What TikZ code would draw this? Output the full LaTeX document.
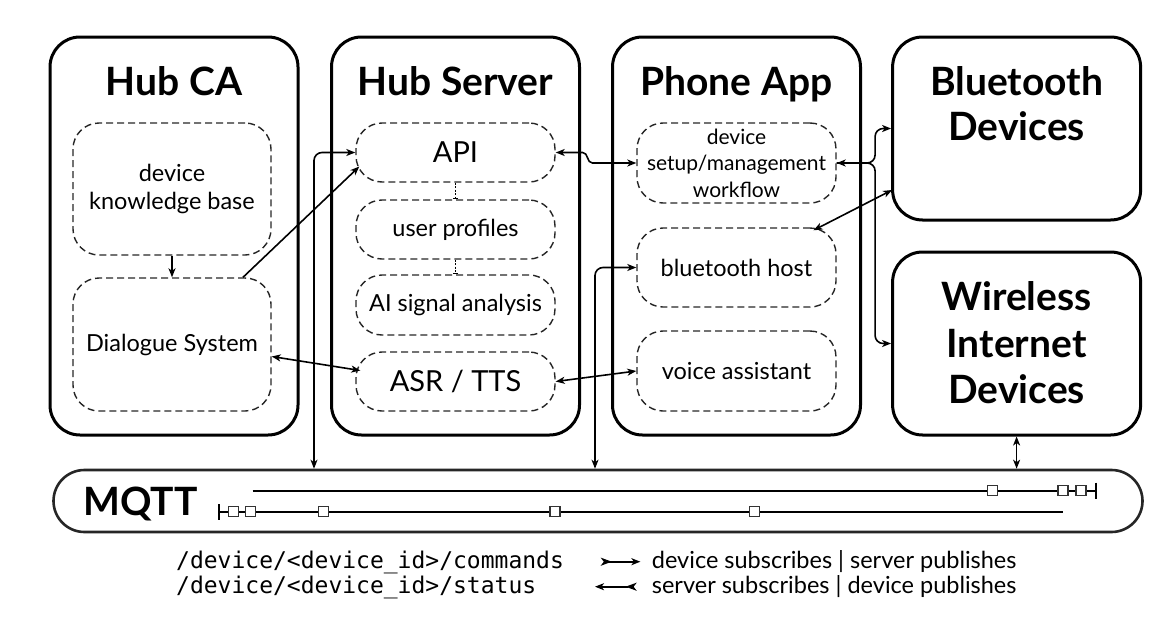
\documentclass[tikz,border=0pt]{standalone}
\usepackage{fontspec}
\setmainfont{Lato}
\setmonofont{DejaVu Sans Mono}
\usetikzlibrary{arrows.meta,calc}
\begin{document}
\begin{tikzpicture}[x=1pt,y=-1pt,
  >={Stealth[length=9pt,width=7pt,inset=2.5pt]},
  bigbox/.style={draw, line width=3pt, rounded corners=30pt, inner sep=0pt},
  dbox/.style={draw=black!85, line width=1.4pt, dash pattern=on 7pt off 4pt, rounded corners=26pt,
     minimum width=199pt, inner sep=0pt, align=center, font=\fontsize{23.5}{28}\selectfont},
  ttl/.style={anchor=base, inner sep=0pt, font=\fontsize{39}{46}\selectfont\bfseries},
  conn/.style={line width=1.6pt},
  sq/.style={draw=black!80, fill=white, line width=1.3pt, minimum size=10pt, inner sep=0pt},
  leg/.style={anchor=base west, inner sep=0pt, font=\fontsize{23.5}{28}\selectfont},
  mono/.style={anchor=base west, inner sep=0pt, font=\fontsize{23}{25}\ttfamily}
]
\useasboundingbox (0,0) rectangle (1172,624);

% main boxes
\node[bigbox, minimum width=248pt, minimum height=398pt] (HCA) at (174,236) {};
\node[bigbox, minimum width=248pt, minimum height=398pt] (HS) at (455.5,236) {};
\node[bigbox, minimum width=248pt, minimum height=398pt] (PA) at (736.5,236) {};
\node[bigbox, minimum width=248pt, minimum height=183pt] (BT) at (1016.6,128.5) {};
\node[bigbox, minimum width=248pt, minimum height=183pt] (WID) at (1016.6,343.5) {};
\node[bigbox, line width=2.6pt, draw=black!85, rounded corners=31pt, minimum width=1089pt, minimum height=62pt] (MQTT) at (598,501) {};

% titles
\node[ttl] (tHCA) at (174,95) {Hub CA};
\node[ttl] (tHS) at (455.5,95) {Hub Server};
\node[ttl] (tPA) at (736.5,95) {Phone App};
\node[ttl] (tBT1) at (1016.6,95) {Bluetooth};
\node[ttl] (tBT2) at (1016.6,140) {Devices};
\node[ttl] (tW1) at (1016.6,310) {Wireless};
\node[ttl] (tW2) at (1016.6,357) {Internet};
\node[ttl] (tW3) at (1016.6,403) {Devices};
\node[ttl] (tMQ) at (140.5,515) {MQTT};

% dashed sub-boxes
\node[dbox, minimum width=198pt, minimum height=132pt] (KB) at (172,189) {device\\knowledge base};
\node[dbox, minimum width=198pt, minimum height=133pt] (DS) at (172,344.5) {Dialogue System};
\node[dbox, minimum height=59pt, font=\fontsize{29}{34}\selectfont] (API) at (455.5,152.5) {API};
\node[dbox, minimum height=59pt] (UP) at (455.5,229.5) {user profiles};
\node[dbox, minimum height=60pt] (AI) at (455.5,305) {AI signal analysis};
\node[dbox, minimum height=59pt, font=\fontsize{29}{34}\selectfont] (ASR) at (455.5,381.5) {ASR / TTS};
\node[dbox, minimum height=80pt, font=\fontsize{21}{26.5}\selectfont] (SET) at (736.5,163) {device\\setup/management\\workflow};
\node[dbox, minimum height=79pt] (BTH) at (736.5,267.5) {bluetooth host};
\node[dbox, minimum height=80pt] (VA) at (736.5,371) {voice assistant};

% helper coordinates
\coordinate (x0) at (314,0);
\coordinate (x1) at (595,0);

% connectors
\draw[conn,->] (KB.south) -- (DS.north);
\draw[conn,->] ([shift={(71,0)}]DS.north) -- ([shift={(4,14)}]API.west);
\draw[conn,<->] ([shift={(0,12)}]DS.east) -- ([shift={(5,-11)}]ASR.west);
\draw[conn,<->] (ASR.east) -- (VA.west);
\draw[conn,<->,rounded corners=8pt] (x0 |- MQTT.north) |- (API.west);
\draw[conn,<->,rounded corners=8pt] (x1 |- MQTT.north) |- (BTH.west);
\draw[conn,<->] (API.east) -- ([shift={(27,0)}]API.east) to[out=0,in=180] ([shift={(-44,0)}]SET.west) -- (SET.west);
\draw[conn,<->,rounded corners=8pt] (SET.east) -| ([shift={(-16,0)}]BT.west) -- (BT.west);
\draw[conn,->,rounded corners=8pt] (SET.east) -| ([shift={(-16,0)}]WID.west) -- (WID.west);
\draw[conn,<->] ([shift={(77,3)}]BTH.north) -- ([shift={(1,61.5)}]BT.west);
\draw[conn,<->] (WID.south) -- (WID.south |- MQTT.north);
\draw[line width=1pt, dash pattern=on 2pt off 1.5pt, -{Bar[width=5pt]}] (API.south) -- (UP.north);
\draw[line width=1pt, dash pattern=on 2pt off 1.5pt, -{Bar[width=5pt]}] (UP.south) -- (AI.north);

% MQTT topic lines
\draw[line width=2pt, -{Bar[width=16pt]}] (252.6,490.7) -- (1097,490.7);
\draw[line width=1.6pt, {Bar[width=16pt]}-] (218,511.7) -- (1063,511.7);
\foreach \p [count=\i] in {992.6,1063,1081}
  \node[sq] (ct\i) at (\p,490.7) {};
\foreach \p [count=\i] in {233.4,250.7,323.4,555,754.8}
  \node[sq] (st\i) at (\p,511.7) {};

% legend
\node[mono] (m1) at (176,568) {/device/<device\_id>/commands};
\node[mono] (m2) at (176,593) {/device/<device\_id>/status};
\node[leg] (l1) at (651.7,568) {device subscribes | server publishes};
\node[leg] (l2) at (651.7,593) {server subscribes | device publishes};
\coordinate (a1s) at (600.8,561.7);
\coordinate (a1e) at (640.4,561.7);
\coordinate (a2s) at (595,586.7);
\coordinate (a2e) at (636.6,586.7);
\draw[conn, {Stealth[length=11pt,width=8pt,inset=3pt,reversed]}-{Stealth[length=9pt,width=7pt,inset=2.5pt]}] (a1s) -- (a1e);
\draw[conn, {Stealth[length=9pt,width=7pt,inset=2.5pt]}-{Stealth[length=11pt,width=8pt,inset=3pt,reversed]}] (a2s) -- (a2e);
\end{tikzpicture}
\end{document}
